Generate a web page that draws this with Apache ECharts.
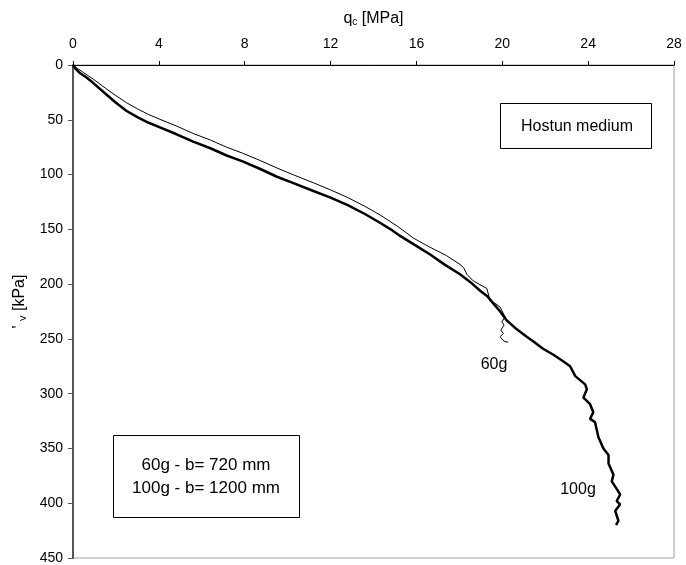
<!DOCTYPE html>
<html><head><meta charset="utf-8">
<script src="https://cdn.jsdelivr.net/npm/echarts@6/dist/echarts.min.js"></script>
<style>html,body{margin:0;padding:0;background:#fff}#c{width:686px;height:565px}</style>
</head><body><div id="c"></div>
<script>
// q_c [MPa] vs sigma'_v [kPa]
const xTicks = [0, 4, 8, 12, 16, 20, 24, 28];
const yTicks = [0, 50, 100, 150, 200, 250, 300, 350, 400, 450];

const qc100 = [0,0.1,0.3,0.6,0.95,1.5,2.0,2.5,3.0,3.5,4.05,4.8,5.6,6.4,7.16,7.9,8.7,9.5,10.3,11.2,12.0,12.8,13.6,14.3,14.8,15.24,15.9,16.64,17.3,18.03,18.5,18.97,19.3,19.6,19.9,20.2,20.6,21.14,21.5,21.76,21.9,22.38,22.8,23.16,23.4,23.86,23.94,23.78,24.09,24.24,24.09,24.32,24.4,24.48,24.71,24.95,24.95,25.18,25.1,25.3,25.49,25.33,25.49,25.26,25.41,25.3];
const sv100 = [0,3,7,11,16.5,26,34.5,42,47.5,52.5,57,63,70,76,82.6,88,94.7,102,108,115,121,128,136,144,150,156,164,173,182,191,198,206,211,218,225,233,240,248,253,257,259,264.5,270,275,284,291.5,296,303.6,309.6,317,323,326,333,339.7,350,356,363.7,374,380,386,392,398,401,407,416,420];

const qc60 = [0,0.2,0.5,0.95,1.5,2.0,2.5,3.0,3.5,4.05,4.8,5.6,6.4,7.16,7.9,8.7,9.5,10.3,11.2,12.0,12.8,13.6,14.3,15.1,15.86,16.6,17.4,18.03,18.2,18.35,18.64,19.28,19.43,19.7,19.9,20.13,19.98,20.08,19.93,20.05,19.9,20.02,20.13,20.28];
const sv60 = [0,3,7,13,21,28,34.5,40,45,49.6,55.5,62.5,68.5,75,80.5,87,94,100.5,107.5,114,121,129,136.8,147,158,166,174,182,185,191,197,204,215,218,221,230,234.4,237.4,242,245,248,251,252.5,253];

const seriesNames = ['60g', '100g'];
const noteLines = ['60g - b= 720 mm', '100g - b= 1200 mm'];
const boxTitle = 'Hostun medium';

const zip = (a, b) => a.map((v, i) => [v, b[i]]);
const FONT = '"Liberation Sans", Arial, sans-serif';

const chart = echarts.init(document.getElementById('c'));
chart.setOption({
  animation: false,
  backgroundColor: '#fff',
  textStyle: { fontFamily: FONT },
  grid: { left: 73, top: 65, right: 12, bottom: 1, show: true, borderColor: '#a0a0a0', borderWidth: 1 },
  xAxis: {
    type: 'value', position: 'top', min: 0, max: 28, interval: 4,
    name: 'q{sub|c} [MPa]', nameLocation: 'middle', nameGap: 38,
    nameTextStyle: { fontFamily: FONT, fontSize: 16, color: '#000',
      rich: { sub: { fontSize: 10, verticalAlign: 'bottom', padding: [6, 0, 0, 0], fontFamily: FONT } } },
    axisLine: { show: true, lineStyle: { color: '#000', width: 1 } },
    axisTick: { show: true, inside: false, length: 4, lineStyle: { color: '#000' } },
    axisLabel: { fontFamily: FONT, fontSize: 14, color: '#000', margin: 14 },
    splitLine: { show: false }
  },
  yAxis: {
    type: 'value', inverse: true, min: 0, max: 450, interval: 50,
    name: "' {sub|v} [kPa]", nameLocation: 'middle', nameGap: 40, nameRotate: 90,
    nameTextStyle: { fontFamily: FONT, fontSize: 16, color: '#000', padding: [0, 0, 0, 20],
      rich: { sub: { fontSize: 11, fontFamily: FONT, padding: [8, 0, 0, 0] } } },
    axisLine: { show: true, lineStyle: { color: '#555', width: 2 } },
    axisTick: { show: true, inside: false, length: 5, lineStyle: { color: '#555' } },
    axisLabel: { fontFamily: FONT, fontSize: 14, color: '#000', margin: 10 },
    splitLine: { show: false }
  },
  series: [
    { name: seriesNames[0], type: 'line', data: zip(qc60, sv60), showSymbol: false, symbol: 'none',
      lineStyle: { color: '#000', width: 1 }, z: 3 },
    { name: seriesNames[1], type: 'line', data: zip(qc100, sv100), showSymbol: false, symbol: 'none',
      lineStyle: { color: '#000', width: 2.5 }, z: 2 }
  ],
  graphic: [
    { type: 'rect', shape: { x: 500.5, y: 103.5, width: 151, height: 45 },
      style: { fill: '#fff', stroke: '#000', lineWidth: 1 }, z: 10 },
    { type: 'text', x: 577, y: 126.5, style: { text: boxTitle, font: '16px ' + FONT, fill: '#000', textAlign: 'center', textVerticalAlign: 'middle' }, z: 11 },
    { type: 'rect', shape: { x: 113.5, y: 435.5, width: 186, height: 82 },
      style: { fill: '#fff', stroke: '#000', lineWidth: 1 }, z: 10 },
    { type: 'text', x: 206, y: 465, style: { text: noteLines[0], font: '17px ' + FONT, fill: '#000', textAlign: 'center', textVerticalAlign: 'middle' }, z: 11 },
    { type: 'text', x: 206, y: 488, style: { text: noteLines[1], font: '17px ' + FONT, fill: '#000', textAlign: 'center', textVerticalAlign: 'middle' }, z: 11 },
    { type: 'text', x: 494, y: 365, style: { text: seriesNames[0], font: '16px ' + FONT, fill: '#000', textAlign: 'center', textVerticalAlign: 'middle' }, z: 11 },
    { type: 'text', x: 578, y: 490, style: { text: seriesNames[1], font: '16px ' + FONT, fill: '#000', textAlign: 'center', textVerticalAlign: 'middle' }, z: 11 }
  ]
});
</script>
</body></html>
